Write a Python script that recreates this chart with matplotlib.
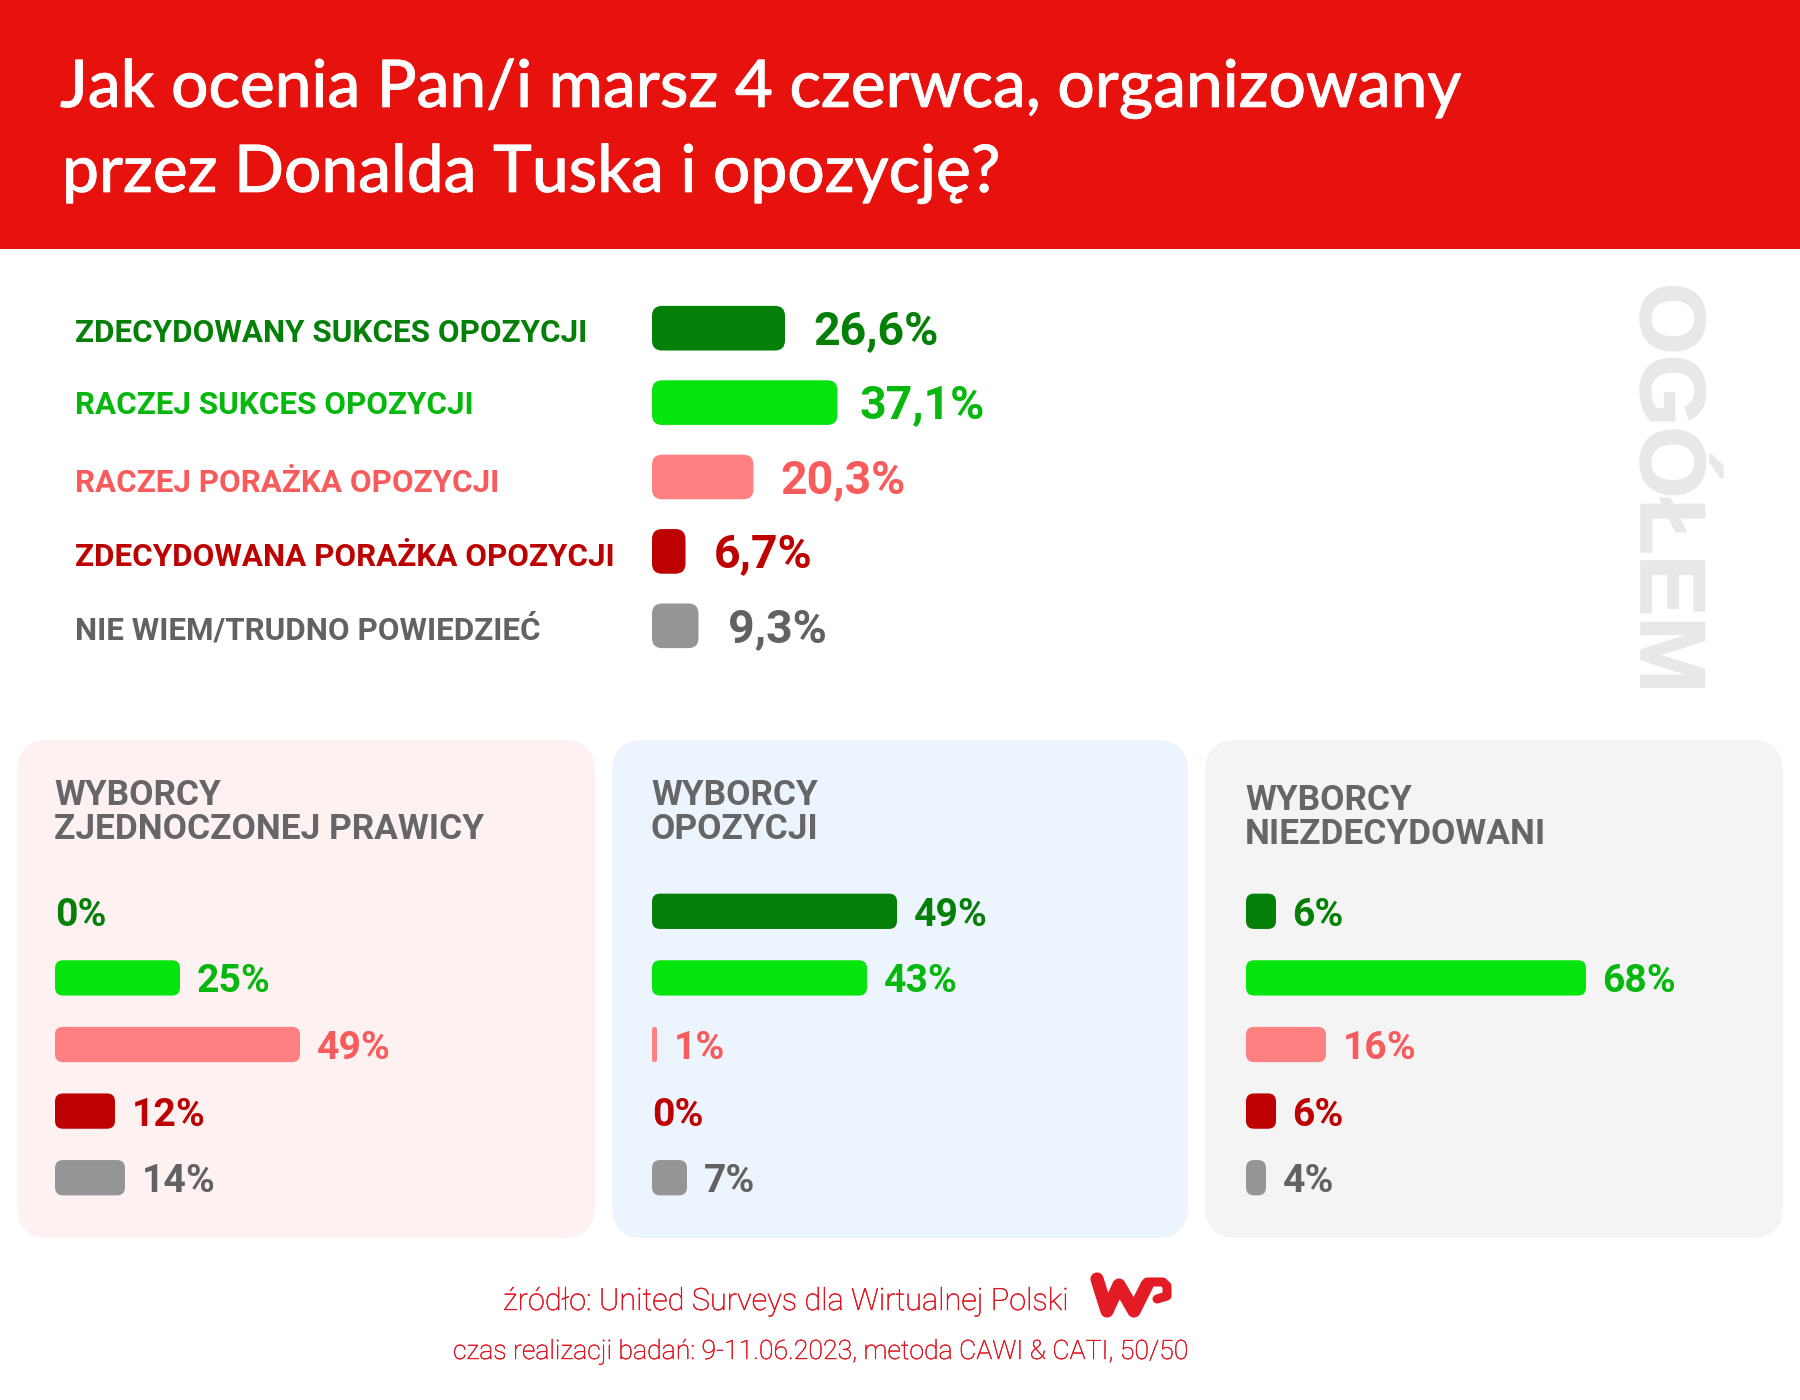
import matplotlib
matplotlib.use("Agg")
import matplotlib.pyplot as plt
import matplotlib.patheffects as pe
from matplotlib.patches import FancyBboxPatch, Rectangle

W, H = 1800, 1400

categories = ["ZDECYDOWANY SUKCES OPOZYCJI", "RACZEJ SUKCES OPOZYCJI", "RACZEJ PORAŻKA OPOZYCJI",
              "ZDECYDOWANA PORAŻKA OPOZYCJI", "NIE WIEM/TRUDNO POWIEDZIEĆ"]
overall = [26.6, 37.1, 20.3, 6.7, 9.3]
overall_labels = ["26,6%", "37,1%", "20,3%", "6,7%", "9,3%"]

group_names = ["WYBORCY\nZJEDNOCZONEJ PRAWICY", "WYBORCY\nOPOZYCJI", "WYBORCY\nNIEZDECYDOWANI"]
right_voters = [0, 25, 49, 12, 14]
opposition_voters = [49, 43, 1, 0, 7]
undecided_voters = [6, 68, 16, 6, 4]

bar_colors = ["#047F07", "#06E40E", "#FF8080", "#BD0000", "#959595"]
text_colors = ["#047F07", "#06B80E", "#F85B5B", "#BD0000", "#626262"]
RED = "#E7120E"
FOOT = "#E0101C"

plt.rcParams["font.family"] = ["Roboto", "DejaVu Sans"]
fig = plt.figure(figsize=(18, 14), dpi=100, facecolor="white")

# background layer in pixels
bg = fig.add_axes([0, 0, 1, 1])
bg.set_xlim(0, W)
bg.set_ylim(H, 0)
bg.axis("off")


def px_axes(left, top, width, height):
    return fig.add_axes([left / W, 1 - (top + height) / H, width / W, height / H])


def round_bars(ax, values, colors, height, radius):
    # rounded barh, radius is in x units, mutation_aspect keeps corners circular
    x0, x1 = ax.get_xlim()
    y0, y1 = ax.get_ylim()
    bb = ax.get_window_extent()
    aspect = (abs(y1 - y0) / bb.height) / (abs(x1 - x0) / bb.width)
    for i, v in enumerate(values):
        if v <= 0:
            continue
        r = min(radius, v / 2)
        ax.add_patch(FancyBboxPatch((0, i - height / 2), v, height,
                                    boxstyle=f"round,pad=0,rounding_size={r}",
                                    mutation_aspect=aspect, fc=colors[i], ec="none"))


# header
title_fx = [pe.withStroke(linewidth=0.5, foreground="white")]
bg.add_patch(Rectangle((0, 0), W, 249, fc=RED, ec="none"))
bg.text(60, 107, "Jak ocenia Pan/i marsz 4 czerwca, organizowany", family="Lato", fontsize=47.3,
        weight="medium", color="white", va="baseline", path_effects=title_fx)
bg.text(62, 192, "przez Donalda Tuska i opozycję?", family="Lato", fontsize=47.3,
        weight="medium", color="white", va="baseline", path_effects=title_fx)

# top chart, 5 px per percentage point
ax = px_axes(652, 291, 900, 372)
ax.set_xlim(0, 180)
ax.set_ylim(4.5, -0.5)
ax.axis("off")
round_bars(ax, overall, bar_colors, 0.6, 2.0)
overall_gap = [5.6, 4.4, 5.4, 5.6, 6.0]
label_y = [330, 402, 480, 554, 627]
for i, (v, lab) in enumerate(zip(overall, overall_labels)):
    ax.text(v + overall_gap[i], i - 0.02, lab, fontsize=33.5, weight="bold", color=text_colors[i],
            va="center_baseline")
    bg.text(75, label_y[i], categories[i], fontsize=22.6, weight="bold", color=text_colors[i],
            va="center_baseline")

bg.text(1665, 488, "OGÓŁEM", family="Liberation Sans", fontsize=66.5, weight="bold", color="#E8E8E8",
        rotation=270, ha="center", va="center",
        path_effects=[pe.withStroke(linewidth=1.2, foreground="#E8E8E8")])

# voter group panels
panel_left = [17, 612, 1205]
panel_width = [578, 576, 578]
panel_colors = ["#FDF1F1", "#ECF4FD", "#F4F4F4"]
bar_left = [55, 652, 1246]
head_y = [805, 805, 810]
for k, values in enumerate([right_voters, opposition_voters, undecided_voters]):
    bg.add_patch(FancyBboxPatch((panel_left[k], 740), panel_width[k], 498,
                                boxstyle="round,pad=0,rounding_size=32", fc=panel_colors[k], ec="none"))
    lines = group_names[k].split("\n")
    bg.text(bar_left[k] - 1, head_y[k], lines[0], fontsize=25.4, weight="bold", color="#666666")
    bg.text(bar_left[k] - 1, head_y[k] + 34, lines[1], fontsize=25.4, weight="bold", color="#666666")
    ax = px_axes(bar_left[k], 878, 500, 333)
    ax.set_xlim(0, 100)
    ax.set_ylim(4.5, -0.5)
    ax.axis("off")
    round_bars(ax, values, bar_colors, 0.53, 1.6)
    for i, v in enumerate(values):
        off = 3.3 if v > 0 else 0.0
        ax.text(v + off, i, f"{v}%", fontsize=28.2, weight="bold", color=text_colors[i],
                va="center_baseline")

# footer
foot_fx = [pe.withStroke(linewidth=0.3, foreground=FOOT)]
bg.text(503, 1310, "źródło: United Surveys dla Wirtualnej Polski", fontsize=22.1,
        weight="light", color=FOOT, path_effects=foot_fx)
bg.text(453, 1359, "czas realizacji badań: 9-11.06.2023, metoda CAWI & CATI, 50/50",
        fontsize=19.2, weight="light", color=FOOT, path_effects=foot_fx)

# WP logo
bg.plot([1097, 1107, 1119, 1134, 1147], [1279, 1311, 1285, 1311, 1285], color="#E21B25", lw=9.5,
        solid_capstyle="round", solid_joinstyle="round")
bg.plot([1147, 1163, 1167, 1167, 1157], [1282, 1282, 1286, 1296, 1299], color="#E21B25", lw=6.5,
        solid_capstyle="round", solid_joinstyle="round")

fig.savefig("out.png", dpi=100)
